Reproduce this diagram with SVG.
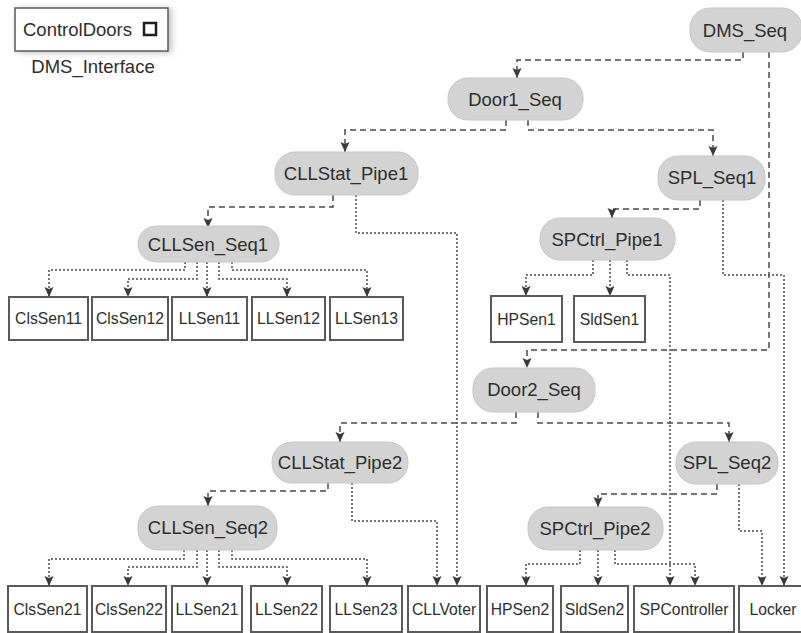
<svg xmlns="http://www.w3.org/2000/svg" width="801" height="633" viewBox="0 0 801 633">
  <style>
    .seq rect { fill: #d3d3d3; stroke: #c6c6c6; stroke-width: 1; }
    .seq text { font-family: "Liberation Sans", Arial, sans-serif; font-size: 18.5px; fill: #2e2e2e; text-anchor: middle; }
    .blk rect { fill: #ffffff; stroke: #5a5a5a; stroke-width: 2; }
    .blk text { font-family: "Liberation Sans", Arial, sans-serif; font-size: 15.7px; fill: #2e2e2e; text-anchor: middle; }
    .dash { fill: none; stroke: #4a4a4a; stroke-width: 1.5; stroke-dasharray: 6 4; marker-end: url(#arr); }
    .dot { fill: none; stroke: #4a4a4a; stroke-width: 1.5; stroke-dasharray: 2 2; marker-end: url(#arr); }
    .lbl { font-family: "Liberation Sans", Arial, sans-serif; font-size: 18.5px; fill: #2e2e2e; }
  </style>
  <defs>
    <marker id="arr" markerUnits="userSpaceOnUse" markerWidth="12" markerHeight="10" refX="10" refY="4.5" orient="auto">
      <path d="M0,0 L10,4.5 L0,9 L2,4.5 z" fill="#3a3a3a"/>
    </marker>
    <filter id="shadow" x="-10%" y="-20%" width="130%" height="150%">
      <feGaussianBlur in="SourceAlpha" stdDeviation="3"/>
      <feOffset dx="3" dy="1"/>
      <feComponentTransfer><feFuncA type="linear" slope="0.25"/></feComponentTransfer>
      <feMerge><feMergeNode/><feMergeNode in="SourceGraphic"/></feMerge>
    </filter>
  </defs>

  <rect width="801" height="633" fill="#ffffff"/>

  <!-- interface block -->
  <g id="DMS_Interface">
    <rect x="15" y="8" width="153" height="43" fill="#ffffff" stroke="#5a5a5a" stroke-width="1.5" filter="url(#shadow)"/>
    <text class="lbl" x="23" y="36">ControlDoors</text>
    <rect x="144" y="23" width="12" height="12" fill="#ffffff" stroke="#1e1e1e" stroke-width="2.5"/>
    <text class="lbl" x="93" y="73" text-anchor="middle">DMS_Interface</text>
  </g>

  <!-- connectors -->
  <g id="connectors">
    <!-- DMS_Seq -->
    <path class="dash" d="M743,52 V60 H517 V78"/>
    <path class="dash" d="M769,52 V350 H527 V368"/>
    <!-- Door1_Seq -->
    <path class="dash" d="M506,120 V130 H345 V152"/>
    <path class="dash" d="M528,120 V130 H713 V156"/>
    <!-- CLLStat_Pipe1 -->
    <path class="dash" d="M333,195 V207 H208 V228"/>
    <path class="dot" d="M356,195 V233 H457 V586"/>
    <!-- CLLSen_Seq1 -->
    <path class="dot" d="M185,262 V270 H49 V297"/>
    <path class="dot" d="M197,262 V279 H128 V297"/>
    <path class="dot" d="M207,262 V297"/>
    <path class="dot" d="M219,262 V279 H287 V297"/>
    <path class="dot" d="M232,262 V270 H367 V297"/>
    <!-- SPL_Seq1 -->
    <path class="dash" d="M700,200 V209 H612 V218"/>
    <path class="dot" d="M723,200 V275 H784 V586"/>
    <!-- SPCtrl_Pipe1 -->
    <path class="dot" d="M593,260 V275 H526 V296"/>
    <path class="dot" d="M610,260 V296"/>
    <path class="dot" d="M627,260 V275 H670 V586"/>
    <!-- Door2_Seq -->
    <path class="dash" d="M516,412 V423 H340 V442"/>
    <path class="dash" d="M538,412 V423 H729 V442"/>
    <!-- CLLStat_Pipe2 -->
    <path class="dash" d="M328,483 V491 H208 V506"/>
    <path class="dot" d="M352,483 V521 H437 V586"/>
    <!-- CLLSen_Seq2 -->
    <path class="dot" d="M184,550 V559 H49 V586"/>
    <path class="dot" d="M197,550 V567 H128 V586"/>
    <path class="dot" d="M207,550 V586"/>
    <path class="dot" d="M219,550 V567 H287 V586"/>
    <path class="dot" d="M232,550 V559 H367 V586"/>
    <!-- SPL_Seq2 -->
    <path class="dash" d="M717,484 V494 H598 V507"/>
    <path class="dot" d="M739,484 V531 H762 V586"/>
    <!-- SPCtrl_Pipe2 -->
    <path class="dot" d="M580,550 V564 H526 V586"/>
    <path class="dot" d="M598,550 V586"/>
    <path class="dot" d="M615,550 V564 H695 V586"/>
  </g>

  <!-- sequence / pipe nodes -->
  <g id="DMS_Seq" class="seq"><rect x="690" y="8" width="112" height="44" rx="20"/><text x="745" y="37">DMS_Seq</text></g>
  <g id="Door1_Seq" class="seq"><rect x="448" y="78" width="135" height="42" rx="20"/><text x="515" y="106">Door1_Seq</text></g>
  <g id="CLLStat_Pipe1" class="seq"><rect x="275" y="152" width="143" height="43" rx="20"/><text x="346" y="180">CLLStat_Pipe1</text></g>
  <g id="SPL_Seq1" class="seq"><rect x="658" y="156" width="107" height="44" rx="20"/><text x="712" y="184">SPL_Seq1</text></g>
  <g id="CLLSen_Seq1" class="seq"><rect x="138" y="226" width="141" height="36" rx="18"/><text x="208" y="251">CLLSen_Seq1</text></g>
  <g id="SPCtrl_Pipe1" class="seq"><rect x="540" y="218" width="135" height="42" rx="20"/><text x="607" y="246">SPCtrl_Pipe1</text></g>
  <g id="Door2_Seq" class="seq"><rect x="473" y="368" width="122" height="44" rx="20"/><text x="534" y="396">Door2_Seq</text></g>
  <g id="CLLStat_Pipe2" class="seq"><rect x="272" y="442" width="136" height="41" rx="20"/><text x="340" y="469">CLLStat_Pipe2</text></g>
  <g id="SPL_Seq2" class="seq"><rect x="676" y="442" width="102" height="42" rx="20"/><text x="727" y="469">SPL_Seq2</text></g>
  <g id="CLLSen_Seq2" class="seq"><rect x="138" y="506" width="139" height="44" rx="20"/><text x="208" y="534">CLLSen_Seq2</text></g>
  <g id="SPCtrl_Pipe2" class="seq"><rect x="528" y="507" width="135" height="43" rx="20"/><text x="595" y="535">SPCtrl_Pipe2</text></g>

  <!-- leaf blocks, upper row -->
  <g id="ClsSen11" class="blk"><rect x="9" y="297" width="79" height="43"/><text x="48.5" y="324">ClsSen11</text></g>
  <g id="ClsSen12" class="blk"><rect x="92" y="297" width="76" height="43"/><text x="130" y="324">ClsSen12</text></g>
  <g id="LLSen11" class="blk"><rect x="172" y="297" width="75" height="43"/><text x="209.5" y="324">LLSen11</text></g>
  <g id="LLSen12" class="blk"><rect x="252" y="297" width="73" height="43"/><text x="288.5" y="324">LLSen12</text></g>
  <g id="LLSen13" class="blk"><rect x="330" y="297" width="73" height="43"/><text x="366.5" y="324">LLSen13</text></g>
  <g id="HPSen1" class="blk"><rect x="491" y="296" width="71" height="46"/><text x="526.5" y="325">HPSen1</text></g>
  <g id="SldSen1" class="blk"><rect x="574" y="296" width="71" height="46"/><text x="609.5" y="325">SldSen1</text></g>

  <!-- leaf blocks, lower row -->
  <g id="ClsSen21" class="blk"><rect x="8" y="586" width="79" height="46"/><text x="47.5" y="615">ClsSen21</text></g>
  <g id="ClsSen22" class="blk"><rect x="92" y="586" width="74" height="46"/><text x="129" y="615">ClsSen22</text></g>
  <g id="LLSen21" class="blk"><rect x="172" y="586" width="70" height="46"/><text x="207" y="615">LLSen21</text></g>
  <g id="LLSen22" class="blk"><rect x="251" y="586" width="71" height="46"/><text x="286.5" y="615">LLSen22</text></g>
  <g id="LLSen23" class="blk"><rect x="330" y="586" width="72" height="46"/><text x="366" y="615">LLSen23</text></g>
  <g id="CLLVoter" class="blk"><rect x="408" y="586" width="72" height="46"/><text x="444" y="615">CLLVoter</text></g>
  <g id="HPSen2" class="blk"><rect x="487" y="586" width="66" height="46"/><text x="520" y="615">HPSen2</text></g>
  <g id="SldSen2" class="blk"><rect x="561" y="586" width="67" height="46"/><text x="594.5" y="615">SldSen2</text></g>
  <g id="SPController" class="blk"><rect x="634" y="586" width="100" height="46"/><text x="684" y="615">SPController</text></g>
  <g id="Locker" class="blk"><rect x="739" y="586" width="64" height="46"/><text x="773" y="615">Locker</text></g>
</svg>
